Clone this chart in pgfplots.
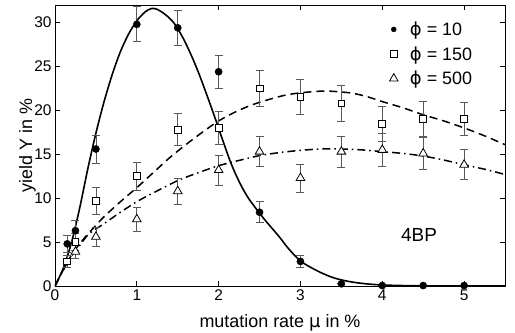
\documentclass[border=0pt]{standalone}
\usepackage{fontspec}
\setmainfont{Liberation Sans}
\newfontfamily\dejavu{DejaVu Sans}
\usepackage{pgfplots}
\pgfplotsset{compat=1.18}
\usepackage{pgfplotstable}

\pgfplotstableread{
x y e
0.15 4.8 1.0
0.25 6.3 1.2
0.5 15.6 1.6
1 29.8 2.0
1.5 29.4 2.0
2 24.4 1.9
2.5 8.4 1.2
3 2.8 0.7
3.5 0.25 0
4 0.05 0
4.5 0.05 0
5 0.05 0
}\phiten

\pgfplotstableread{
x y e
0.15 2.8 0.7
0.25 5.0 1.0
0.5 9.7 1.5
1 12.5 1.6
1.5 17.8 1.8
2 18.0 1.9
2.5 22.5 2.1
3 21.5 2.0
3.5 20.8 2.0
4 18.5 2.0
4.5 19.0 2.0
5 19.0 1.9
}\phimid

\pgfplotstableread{
x y e
0.25 3.9 0.8
0.5 5.6 1.1
1 7.6 1.4
1.5 10.8 1.5
2 13.2 1.7
2.5 15.3 1.7
3 12.3 1.6
3.5 15.3 1.75
4 15.5 1.85
4.5 15.1 1.8
5 13.8 1.7
}\phihigh

\pgfplotstableread{
x y
0 0
0.1 2.0
0.2 4.9
0.3 8.8
0.4 13.3
0.5 17.4
0.6 21.0
0.7 24.1
0.8 26.7
0.9 28.7
1.0 30.2
1.1 31.2
1.18 31.6
1.25 31.5
1.35 30.9
1.45 30.0
1.55 28.5
1.65 26.6
1.75 24.4
1.85 21.9
1.95 19.3
2.05 16.6
2.15 14.0
2.25 11.9
2.35 10.2
2.45 8.9
2.55 7.7
2.65 6.6
2.75 5.5
2.85 4.3
3.0 2.85
3.2 1.75
3.4 0.95
3.6 0.5
3.8 0.25
4.0 0.12
4.3 0.04
4.7 0.01
5.5 0
}\fitten

\pgfplotstableread{
x y
0 0
0.1 1.8
0.2 3.5
0.3 4.8
0.4 5.9
0.5 6.9
0.6 7.9
0.8 9.6
1.0 11.2
1.2 12.9
1.4 14.6
1.6 16.1
1.8 17.5
2.0 18.8
2.2 19.8
2.4 20.6
2.6 21.2
2.8 21.7
3.0 22.0
3.3 22.2
3.6 22.0
3.8 21.6
4.0 21.0
4.25 20.3
4.5 19.5
4.75 18.8
5.0 18.0
5.25 17.1
5.5 16.1
}\fitmid

\pgfplotstableread{
x y
0 0
0.1 1.8
0.2 3.4
0.3 4.6
0.4 5.8
0.5 6.5
0.6 7.1
0.8 8.4
1.0 9.6
1.2 10.6
1.5 12.0
1.75 12.9
2.0 13.7
2.25 14.3
2.5 14.85
2.75 15.2
3.0 15.45
3.25 15.6
3.5 15.6
3.75 15.5
4.0 15.3
4.25 15.1
4.5 14.8
4.75 14.35
5.0 13.8
5.25 13.3
5.5 12.7
}\fithigh

\begin{document}
\begin{tikzpicture}
\useasboundingbox (-55bp,-47bp) rectangle (460bp,286bp);
\begin{axis}[
  at={(0,0)}, anchor=south west,
  scale only axis, width=450bp, height=281bp,
  xmin=0, xmax=5.5, ymin=0, ymax=32,
  xtick={0,1,2,3,4,5}, ytick={0,5,10,15,20,25,30},
  tick align=inside, major tick length=5bp,
  axis line style={line width=0.8bp},
  every tick/.style={black, line width=0.8bp},
  /pgf/number format/assume math mode=true,
  ticklabel style={font=\fontsize{15.5}{18}\selectfont},
  xlabel={mutation rate {\dejavu μ} in \%},
  ylabel={yield Y in \%},
  label style={font=\fontsize{18}{21}\selectfont},
  xlabel style={at={(axis description cs:0.5,-0.1459)}, anchor=base},
  ylabel style={at={(axis description cs:-0.0511,0.5)}, anchor=base},
  legend image code/.code={\path[draw=none,fill=none] (0cm,-0.1cm) rectangle (0.75cm,0.1cm); \draw[#1] plot coordinates {(0.25cm,0cm)};},
  legend style={at={(axis description cs:0.73,0.955)}, anchor=north west,
    draw=none, fill=none, font=\fontsize{18}{21}\selectfont,
    row sep=5.5bp},
  legend cell align=left,
  error bars/error bar style={black!65, line width=0.8bp},
  error bars/error mark options={black!65, line width=0.8bp, mark size=4bp, rotate=90},
]
\addplot[black, line width=1.6bp, smooth, forget plot] table {\fitten};
\addplot[black, line width=1.5bp, smooth, dash pattern=on 8bp off 5bp, forget plot] table {\fitmid};
\addplot[black, line width=1.5bp, smooth, dash pattern=on 8bp off 4bp on 1.5bp off 4bp, forget plot] table {\fithigh};

\addplot[only marks, mark=*, mark size=3.6bp, black, forget plot,
  error bars/.cd, y dir=both, y explicit] table[x=x, y=y, y error=e] {\phiten};
\addplot[only marks, mark=square*, mark size=3.4bp, mark options={fill=white, draw=black, line width=0.8bp}, forget plot,
  error bars/.cd, y dir=both, y explicit] table[x=x, y=y, y error=e] {\phimid};
\addplot[only marks, mark=triangle*, mark size=5bp, mark options={fill=white, draw=black, line width=0.8bp}, forget plot,
  error bars/.cd, y dir=both, y explicit] table[x=x, y=y, y error=e] {\phihigh};

\addlegendimage{only marks, mark=*, mark size=2.5bp, black}
\addlegendentry{{\dejavu ϕ} = 10}
\addlegendimage{only marks, mark=square*, mark size=3.4bp, mark options={fill=white, draw=black, line width=0.8bp}}
\addlegendentry{{\dejavu ϕ} = 150}
\addlegendimage{only marks, mark=triangle*, mark size=5bp, mark options={fill=white, draw=black, line width=0.8bp}}
\addlegendentry{{\dejavu ϕ} = 500}

\node[font=\fontsize{19}{22}\selectfont] at (axis cs:4.45,5.8) {4BP};
\end{axis}
\end{tikzpicture}
\end{document}
